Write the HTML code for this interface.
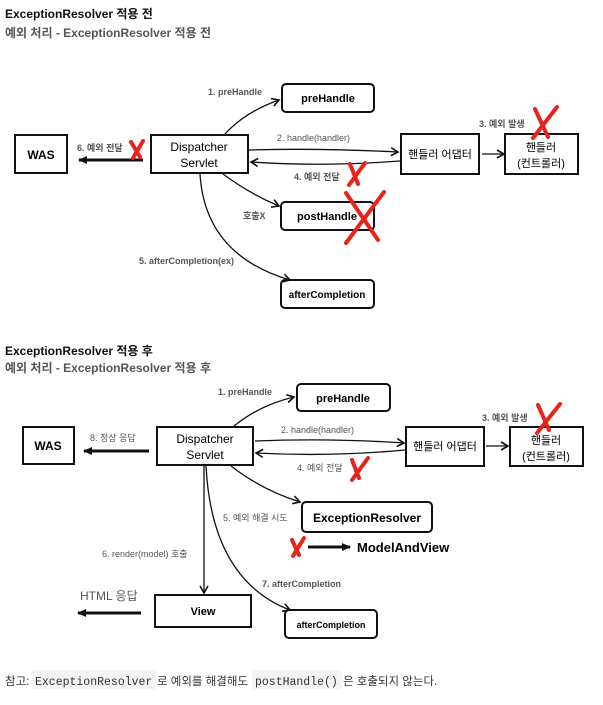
<!DOCTYPE html>
<html><head><meta charset="utf-8"><style>
body{margin:0;background:#fff;width:603px;height:705px;overflow:hidden;font-family:"Liberation Sans","Noto Sans CJK KR",sans-serif}
svg{position:absolute;left:0;top:0}
text{font-family:"Liberation Sans","Noto Sans CJK KR",sans-serif}
.t{font-size:12px;font-weight:bold;fill:#111}
.s{font-size:12px;font-weight:bold;fill:#555}
.lb{font-size:9px;fill:#555}
.lbb{font-size:9px;fill:#555;font-weight:bold}
.bx{fill:#fff;stroke:#111;stroke-width:2}
.ln{fill:none;stroke:#111;stroke-width:1.3}
.th{fill:none;stroke:#111;stroke-width:3}
.x{stroke:#e8231a;stroke-width:4;stroke-linecap:round;fill:none}
</style></head><body>
<svg width="603" height="705" viewBox="0 0 603 705">
<defs>
<marker id="a" markerWidth="10" markerHeight="10" refX="8" refY="5" orient="auto" markerUnits="userSpaceOnUse"><path d="M1,1 L8,5 L1,9" fill="none" stroke="#111" stroke-width="1.6"/></marker>
<marker id="f" markerWidth="10" markerHeight="10" refX="8" refY="5" orient="auto" markerUnits="userSpaceOnUse"><path d="M0,1 L9,5 L0,9 z" fill="#111"/></marker>
</defs>
<text x="5" y="18" class="t">ExceptionResolver 적용 전</text>
<text x="5" y="37" class="s">예외 처리 - ExceptionResolver 적용 전</text>

<!-- top diagram -->
<rect x="15" y="135" width="52" height="38" class="bx"/>
<text x="41" y="159" text-anchor="middle" font-size="12" font-weight="bold">WAS</text>
<rect x="151" y="135" width="97" height="38" class="bx"/>
<text x="199" y="151" text-anchor="middle" font-size="12">Dispatcher</text>
<text x="199" y="167" text-anchor="middle" font-size="12">Servlet</text>
<rect x="282" y="84" width="92" height="28" rx="4" class="bx"/>
<text x="328" y="102" text-anchor="middle" font-size="11" font-weight="bold">preHandle</text>
<rect x="401" y="134" width="78" height="40" class="bx"/>
<text x="440" y="158" text-anchor="middle" font-size="11">핸들러 어댑터</text>
<rect x="505" y="134" width="73" height="40" class="bx"/>
<text x="541" y="151" text-anchor="middle" font-size="11">핸들러</text>
<text x="541" y="167" text-anchor="middle" font-size="11">(컨트롤러)</text>
<rect x="281" y="202" width="93" height="28" rx="4" class="bx"/>
<text x="327" y="220" text-anchor="middle" font-size="11" font-weight="bold">postHandle</text>
<rect x="281" y="280" width="93" height="28" rx="4" class="bx"/>
<text x="327" y="298" text-anchor="middle" font-size="10" font-weight="bold">afterCompletion</text>

<path d="M225,134 Q245,112 279,100" class="ln" marker-end="url(#a)"/>
<text x="208" y="95" class="lbb">1. preHandle</text>
<path d="M249,150 Q320,148 398,152" class="ln" marker-end="url(#a)"/>
<text x="277" y="141" class="lb">2. handle(handler)</text>
<path d="M400,161 Q320,167 251,162" class="ln" marker-end="url(#a)"/>
<text x="294" y="180" class="lbb">4. 예외 전달</text>
<path d="M482,154 L504,154" class="ln" marker-end="url(#a)"/>
<text x="479" y="127" class="lbb">3. 예외 발생</text>
<path d="M223,174 Q250,194 279,206" class="ln" marker-end="url(#a)"/>
<text x="243" y="219" class="lbb">호출X</text>
<path d="M200,174 Q205,255 290,280" class="ln" marker-end="url(#a)"/>
<text x="139" y="264" class="lbb">5. afterCompletion(ex)</text>
<path d="M143,160 L79,160" class="th" marker-end="url(#f)"/>
<text x="77" y="151" class="lbb">6. 예외 전달</text>
<path d="M131,142 L140,157 M143,141 L133,158" class="x" stroke-width="3"/>
<path d="M350,164 L358,184 M365,163 L349,185" class="x"/>
<path d="M535,109 L548,137 M557,107 L533,138" class="x" stroke-width="5"/>
<path d="M346,193 L378,240 M384,192 L346,243" class="x" stroke-width="8"/>

<!-- bottom -->
<text x="5" y="355" class="t">ExceptionResolver 적용 후</text>
<text x="5" y="372" class="s">예외 처리 - ExceptionResolver 적용 후</text>
<rect x="23" y="427" width="51" height="37" class="bx"/>
<text x="48" y="450" text-anchor="middle" font-size="12" font-weight="bold">WAS</text>
<rect x="157" y="427" width="96" height="38" class="bx"/>
<text x="205" y="443" text-anchor="middle" font-size="12">Dispatcher</text>
<text x="205" y="459" text-anchor="middle" font-size="12">Servlet</text>
<rect x="297" y="384" width="93" height="27" rx="4" class="bx"/>
<text x="343" y="402" text-anchor="middle" font-size="11" font-weight="bold">preHandle</text>
<rect x="406" y="427" width="78" height="39" class="bx"/>
<text x="445" y="450" text-anchor="middle" font-size="11">핸들러 어댑터</text>
<rect x="510" y="427" width="73" height="39" class="bx"/>
<text x="546" y="444" text-anchor="middle" font-size="11">핸들러</text>
<text x="546" y="460" text-anchor="middle" font-size="11">(컨트롤러)</text>
<rect x="302" y="502" width="130" height="30" rx="4" class="bx"/>
<text x="367" y="522" text-anchor="middle" font-size="12" font-weight="bold">ExceptionResolver</text>
<rect x="155" y="595" width="96" height="32" class="bx"/>
<text x="203" y="615" text-anchor="middle" font-size="11" font-weight="bold">View</text>
<rect x="285" y="610" width="92" height="28" rx="4" class="bx"/>
<text x="331" y="628" text-anchor="middle" font-size="9" font-weight="bold">afterCompletion</text>

<path d="M234,426 Q260,405 294,397" class="ln" marker-end="url(#a)"/>
<text x="218" y="395" class="lbb">1. preHandle</text>
<path d="M255,441 Q330,438 404,443" class="ln" marker-end="url(#a)"/>
<text x="281" y="433" class="lb">2. handle(handler)</text>
<path d="M405,450 Q330,457 256,453" class="ln" marker-end="url(#a)"/>
<text x="297" y="471" class="lb">4. 예외 전달</text>
<path d="M486,446 L508,446" class="ln" marker-end="url(#a)"/>
<text x="482" y="421" class="lbb">3. 예외 발생</text>
<path d="M231,466 Q262,490 300,502" class="ln" marker-end="url(#a)"/>
<text x="223" y="521" class="lb">5. 예외 해결 시도</text>
<path d="M204,466 L204,593" class="ln" marker-end="url(#a)"/>
<text x="102" y="557" class="lb">6. render(model) 호출</text>
<path d="M206,466 Q212,580 290,610" class="ln" marker-end="url(#a)"/>
<text x="262" y="587" class="lbb">7. afterCompletion</text>
<path d="M149,451 L84,451" class="th" stroke-width="2.5" marker-end="url(#f)"/>
<text x="90" y="441" class="lb">8. 정상 응답</text>
<path d="M141,613 L78,613" class="th" stroke-width="2.5" marker-end="url(#f)"/>
<text x="80" y="600" font-size="12" fill="#555">HTML 응답</text>
<path d="M308,547 L350,547" class="th" stroke-width="2" marker-end="url(#f)"/>
<text x="357" y="552" font-size="13" font-weight="bold">ModelAndView</text>
<path d="M292,540 L299,555 M304,538 L293,556" class="x" stroke-width="3.5"/>
<path d="M352,460 L359,478 M368,458 L352,480" class="x"/>
<path d="M538,405 L549,430 M560,404 L537,433" class="x" stroke-width="5"/>

<rect x="32" y="670" width="124" height="19" fill="#f3f3f3" rx="2"/>
<rect x="252" y="670" width="90" height="19" fill="#f3f3f3" rx="2"/>
<text x="5" y="685" font-size="11.5" fill="#333">참고:</text>
<text x="35" y="685" font-size="11.5" fill="#333" style="font-family:'Liberation Mono',monospace">ExceptionResolver</text>
<text x="157" y="685" font-size="11.5" fill="#333">로 예외를 해결해도</text>
<text x="255" y="685" font-size="11.5" fill="#333" style="font-family:'Liberation Mono',monospace">postHandle()</text>
<text x="343" y="685" font-size="11.5" fill="#333">은 호출되지 않는다.</text>
</svg>
</body></html>
